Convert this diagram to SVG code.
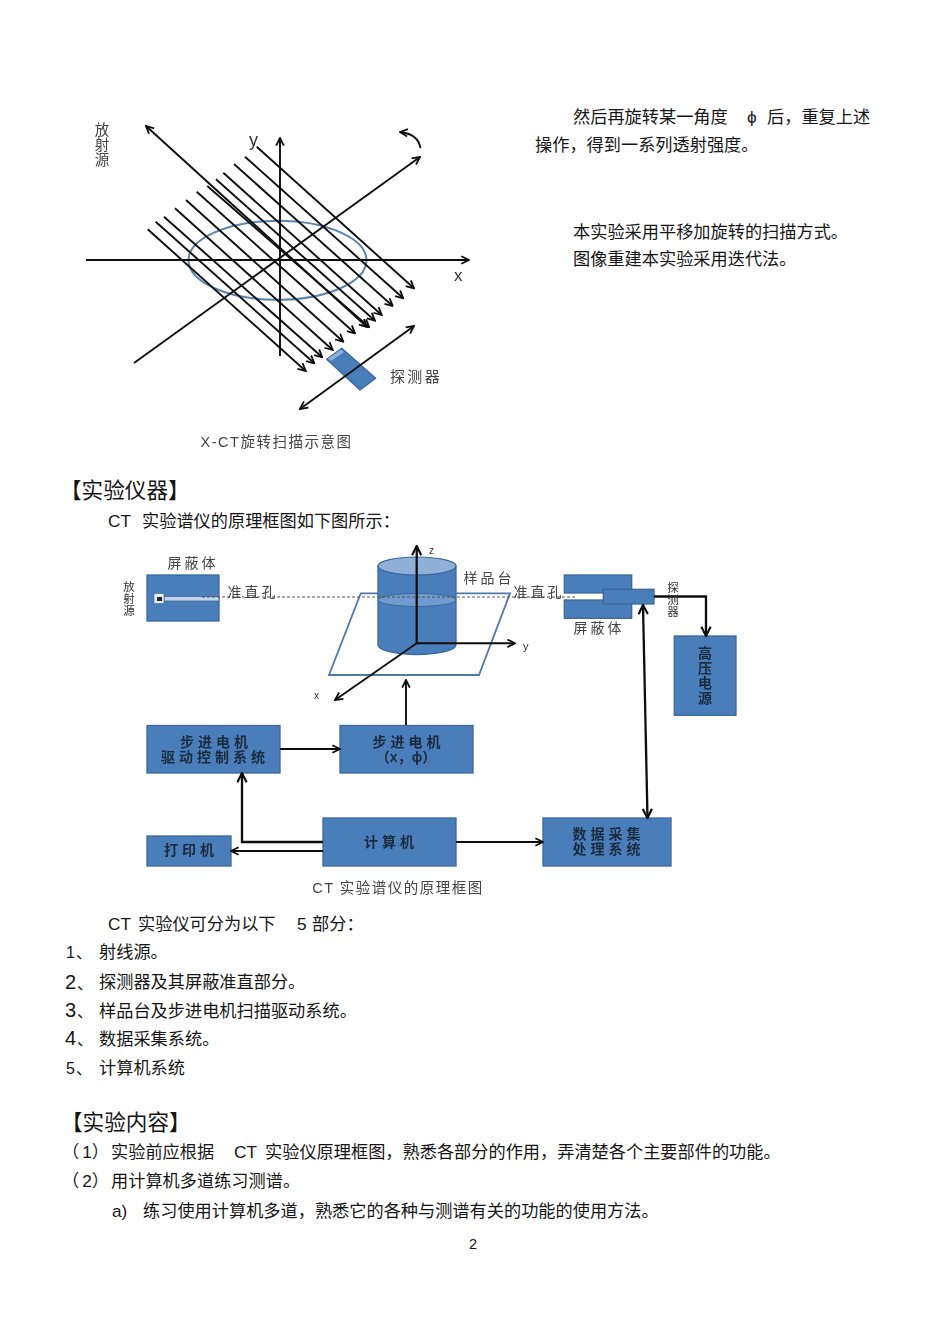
<svg xmlns="http://www.w3.org/2000/svg" width="950" height="1341" viewBox="0 0 950 1341">
<style>
text{font-family:"Liberation Sans","Noto Sans CJK SC",sans-serif}
.b{font-size:17.2px;fill:#151515}
.h{font-size:21.6px;fill:#151515}
.l{font-size:16px;fill:#151515}
.n{font-size:20px;fill:#151515}
.t{font-size:14px;fill:#1c2a3c;font-weight:700;text-anchor:middle}
.c{font-size:14px;fill:#444;text-anchor:middle}
.v{font-size:11.5px;fill:#333;text-anchor:middle}
.fig{filter:url(#blur)}
.blue{fill:#4a7ebb;stroke:#3a679c;stroke-width:1.3}
.ln{fill:none;stroke:#111;stroke-width:1.9}
.th{fill:none;stroke:#111;stroke-width:2.3}
.a{marker-end:url(#arr)}
.aa{marker-start:url(#arr);marker-end:url(#arr)}
</style>
<defs>
<filter id="blur" x="-5%" y="-5%" width="110%" height="110%"><feGaussianBlur stdDeviation="0.5"/></filter>
<marker id="arr" viewBox="0 0 10 10" refX="9" refY="5" markerWidth="5" markerHeight="5" orient="auto-start-reverse" markerUnits="strokeWidth"><path d="M1 1 L9 5 L1 9" fill="none" stroke="#111" stroke-width="1.9"/></marker>
</defs>
<rect width="950" height="1341" fill="#fff"/>

<g id="figure-rotation" class="fig">
<g id="sample-ellipse"><ellipse cx="277.5" cy="260.3" rx="89" ry="39.5" fill="none" stroke="#5b84b1" stroke-width="2"/></g>
<g id="rotation-connectors">
<path class="ln a" d="M86 260H469"/>
<path class="ln a" d="M280 356V138"/>
<path class="ln a" d="M134 363L420 157"/>
<path class="ln aa" d="M146 126L367 327"/>
<path class="ln a" d="M256.7 146.7L414 288.3"/>
<path class="ln a" d="M245 156.7L403.3 298.3"/>
<path class="ln a" d="M234 164L392.7 306"/>
<path class="ln a" d="M223.3 172.7L381.7 315"/>
<path class="ln a" d="M216 179.3L375 320.7"/>
<path class="ln a" d="M207.3 186L369.3 327.3"/>
<path class="ln a" d="M196.7 191.7L355 333.3"/>
<path class="ln a" d="M186 200L343.3 341.7"/>
<path class="ln a" d="M175 208.3L332.7 350"/>
<path class="ln a" d="M164 216.7L322.3 357.3"/>
<path class="ln a" d="M155.7 221.7L314.3 363.3"/>
<path class="ln a" d="M147.7 229.3L305.7 371"/>
<path class="ln a" d="M420.5 148Q418 134 400 132"/>
</g>
<g id="detector-1"><path d="M326.7 359.3L341.7 348.3L375.7 378.3L360 390Z" class="blue" stroke-linejoin="round"/><path d="M328 358.5L341 349.5L344 352L331 361Z" fill="#8fb0d8"/></g>
<path class="ln aa" d="M300 409L414 326"/>
<text class="c" x="102" style="font-size:14.5px"><tspan x="102" y="135">放</tspan><tspan x="102" y="150">射</tspan><tspan x="102" y="165">源</tspan></text>
<text x="249" y="146" font-size="18" fill="#333">y</text>
<text x="454" y="281" font-size="17" fill="#333">x</text>
<text class="c" x="416" y="382" style="font-size:15px;letter-spacing:2.4px">探测器</text>
<text class="c" x="276.5" y="447" style="font-size:14.5px;letter-spacing:1.5px">X-CT旋转扫描示意图</text>
</g>

<g id="figure-principle" class="fig">
<g id="stage-plane"><path d="M360.7 593.3H510L479 675H329Z" fill="none" stroke="#4f79a8" stroke-width="1.8"/></g>
<g id="sample-cylinder">
<path d="M378 566V645A39 9.5 0 0 0 456 645V566Z" class="blue"/>
<ellipse cx="417" cy="566" rx="39" ry="9" fill="#8fb0d8" stroke="#3a679c" stroke-width="1.2"/>
<ellipse cx="417" cy="600" rx="39" ry="6.5" fill="#6f9bcf" stroke="#3a679c" stroke-width="1"/>
</g>
<g id="left-shield">
<rect x="147" y="575" width="72" height="46" class="blue"/>
<rect x="164" y="596.5" width="55" height="4.5" fill="#c5d6ea" stroke="#3a679c" stroke-width=".8"/>
<rect x="154" y="593.5" width="10" height="10" fill="#e8eef6" stroke="#3a679c" stroke-width=".6"/>
<rect x="157" y="597" width="5" height="4" fill="#223"/>
</g>
<g id="right-shield">
<rect x="564.3" y="575" width="67.4" height="18" class="blue"/>
<rect x="564.3" y="600" width="67.4" height="18.3" class="blue"/>
</g>
<g id="detector-2"><rect x="603.3" y="589.3" width="50.7" height="14.7" class="blue"/></g>
<g id="hv-supply"><rect x="674.3" y="636" width="61.7" height="79.3" class="blue"/>
<text class="t" x="705"><tspan x="705" y="658">高</tspan><tspan x="705" y="673">压</tspan><tspan x="705" y="688">电</tspan><tspan x="705" y="703">源</tspan></text></g>
<g id="driver"><rect x="147" y="725.5" width="133" height="47.5" class="blue"/>
<text class="t" x="216" y="746.5" style="letter-spacing:4px">步进电机</text><text class="t" x="215" y="761.5" style="letter-spacing:4px">驱动控制系统</text></g>
<g id="motor"><rect x="340" y="725.5" width="133" height="47.5" class="blue"/>
<text class="t" x="408.5" y="746.5" style="letter-spacing:4px">步进电机</text><text class="t" x="406" y="761.5">（x，ϕ）</text></g>
<g id="printer"><rect x="147" y="836" width="84" height="30" class="blue"/><text class="t" x="191" y="855" style="letter-spacing:4px">打印机</text></g>
<g id="computer"><rect x="323" y="818" width="133" height="48" class="blue"/><text class="t" x="391" y="846.5" style="letter-spacing:4px">计算机</text></g>
<g id="daq"><rect x="543" y="818" width="128" height="48" class="blue"/>
<text class="t" x="608.5" y="839" style="letter-spacing:4px">数据采集</text><text class="t" x="608.5" y="854" style="letter-spacing:4px">处理系统</text></g>
<g id="principle-connectors">
<path d="M202 597H575" fill="none" stroke="#555" stroke-width="1" stroke-dasharray="3 2"/>
<path class="th a" d="M416.7 643.3V546"/>
<path class="ln a" d="M416.7 643.3L335 700"/>
<path class="ln a" d="M416.7 643.3H515"/>
<path class="ln a" d="M406 725V680"/>
<path class="ln a" d="M280 749H340"/>
<path class="th a" d="M323 842H242V773"/>
<path class="ln a" d="M323 851H231"/>
<path class="ln a" d="M456 842H543"/>
<path class="th aa" d="M647.5 818L643 605"/>
<path class="th a" d="M654 596.5H706V636"/>
</g>
<text class="c" x="193" y="568" style="letter-spacing:3px">屏蔽体</text>
<text class="v" x="129"><tspan x="129" y="591">放</tspan><tspan x="129" y="603">射</tspan><tspan x="129" y="615">源</tspan></text>
<text class="c" x="253" y="597" style="letter-spacing:3px">准直孔</text>
<text class="c" x="489" y="583" style="letter-spacing:3px">样品台</text>
<text class="c" x="539" y="597" style="letter-spacing:3px">准直孔</text>
<text class="c" x="599" y="633" style="letter-spacing:3px">屏蔽体</text>
<text class="v" x="673"><tspan x="673" y="592">探</tspan><tspan x="673" y="604">测</tspan><tspan x="673" y="616">器</tspan></text>
<text x="429" y="554" font-size="10" fill="#333">z</text>
<text x="523" y="650" font-size="11" fill="#333">y</text>
<text x="314" y="699" font-size="10" fill="#333">x</text>
<text class="c" x="398" y="893" style="font-size:14.5px;letter-spacing:1.5px">CT 实验谱仪的原理框图</text>
</g>

<g id="body-text">
<text class="b" x="573" y="123">然后再旋转某一角度</text>
<text class="b" x="747" y="123">ϕ</text>
<text class="b" x="767" y="123">后，重复上述</text>
<text class="b" x="535" y="151">操作，得到一系列透射强度。</text>
<text class="b" x="573" y="238">本实验采用平移加旋转的扫描方式。</text>
<text class="b" x="573" y="265">图像重建本实验采用迭代法。</text>
<text class="h" x="60" y="498">【实验仪器】</text>
<text class="b" x="108" y="527">CT</text>
<text class="b" x="142" y="527">实验谱仪的原理框图如下图所示：</text>
<text class="b" x="108" y="930">CT</text>
<text class="b" x="138" y="930">实验仪可分为以下</text>
<text class="b" x="297" y="930">5</text>
<text class="b" x="312" y="930">部分：</text>
<text class="l" x="66" y="958">1</text><text class="l" x="76" y="958">、</text><text class="b" x="99" y="958">射线源。</text>
<text class="n" x="65" y="989">2</text><text class="l" x="77" y="989">、</text><text class="b" x="99" y="988">探测器及其屏蔽准直部分。</text>
<text class="n" x="65" y="1017">3</text><text class="l" x="77" y="1017">、</text><text class="b" x="99" y="1017">样品台及步进电机扫描驱动系统。</text>
<text class="n" x="65" y="1045">4</text><text class="l" x="77" y="1045">、</text><text class="b" x="99" y="1045">数据采集系统。</text>
<text class="l" x="66" y="1074">5</text><text class="l" x="76" y="1074">、</text><text class="b" x="99" y="1074">计算机系统</text>
<text class="h" x="61" y="1130">【实验内容】</text>
<text class="b" x="62" y="1158">（<tspan dx="3">1</tspan>）</text>
<text class="b" x="111" y="1158">实验前应根据</text>
<text class="b" x="234" y="1158">CT</text>
<text class="b" x="265" y="1158">实验仪原理框图，熟悉各部分的作用，弄清楚各个主要部件的功能。</text>
<text class="b" x="62" y="1187">（<tspan dx="3">2</tspan>）</text>
<text class="b" x="111" y="1187">用计算机多道练习测谱。</text>
<text class="b" x="112" y="1217">a)</text>
<text class="b" x="143" y="1217">练习使用计算机多道，熟悉它的各种与测谱有关的功能的使用方法。</text>
<text x="469" y="1249" font-size="14.5" fill="#151515">2</text>
</g>
</svg>
